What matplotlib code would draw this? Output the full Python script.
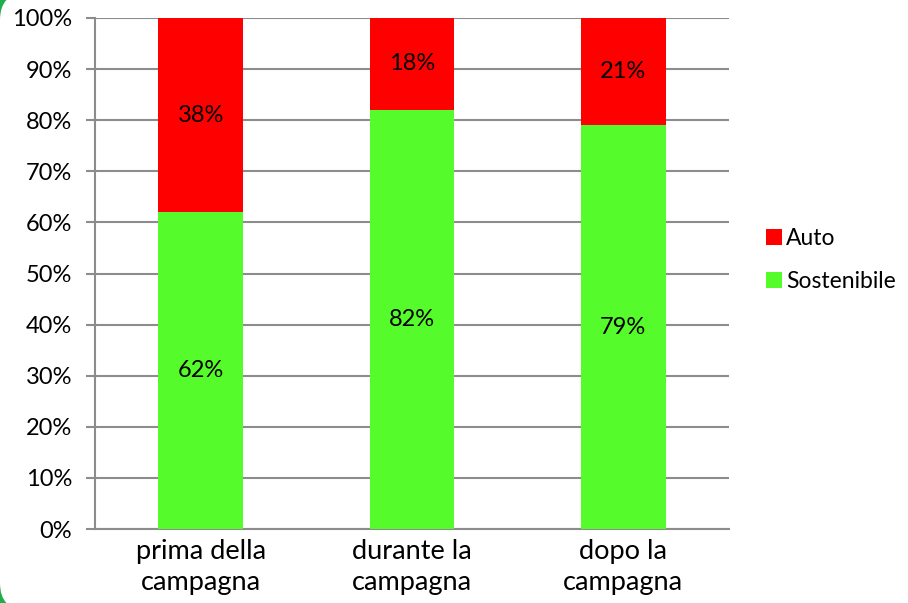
import matplotlib
matplotlib.use("Agg")
import matplotlib.pyplot as plt
from matplotlib.patches import FancyBboxPatch
import numpy as np

categories = ["prima della\ncampagna", "durante la\ncampagna", "dopo la\ncampagna"]
sostenibile = [62, 82, 79]
auto = [38, 18, 21]
yticks = [0, 10, 20, 30, 40, 50, 60, 70, 80, 90, 100]

RED = "#ff0000"
GREEN = "#55fb2a"
FRAME_GREEN = "#1fae4c"

plt.rcParams['font.family'] = ['Lato', 'DejaVu Sans']

fig = plt.figure(figsize=(9.08, 6.03), dpi=100)
fig.patch.set_facecolor(FRAME_GREEN)
# white rounded panel
panel = FancyBboxPatch((0.0, -0.012), 1.2, 1.024, boxstyle="round,pad=0,rounding_size=0.03",
                       transform=fig.transFigure, facecolor="white", edgecolor="none",
                       mutation_aspect=908/603, zorder=-10)
fig.patches.append(panel)

ax = fig.add_axes([95/908, 1 - 529/603, (729 - 95)/908, (529 - 18)/603])
ax.set_facecolor("none")
x = np.arange(len(categories))
w = 0.4
b1 = ax.bar(x, sostenibile, w, color=GREEN, label="Sostenibile", zorder=3)
b2 = ax.bar(x, auto, w, bottom=sostenibile, color=RED, label="Auto", zorder=3)

fs = 17
for xi, s, a in zip(x, sostenibile, auto):
    ax.text(xi, s / 2, f"{s}%", ha="center", va="center", fontsize=fs, zorder=4)
    ax.text(xi, s + a / 2, f"{a}%", ha="center", va="center", fontsize=fs, zorder=4)

ax.set_xlim(-0.5, 2.5)
ax.set_ylim(0, 100)
ax.set_yticks(yticks)
ax.set_yticklabels([f"{t}%" for t in yticks], fontsize=fs)
ax.set_xticks(x)
ax.set_xticklabels(categories, fontsize=19.5, linespacing=1.3)
ax.tick_params(axis="x", length=0, pad=7)
ax.tick_params(axis="y", length=6.5, width=1.5, color="#8c8c8c", pad=10)
ax.yaxis.grid(True, color="#8c8c8c", linewidth=1.5, zorder=1)
for s in ["top", "right"]:
    ax.spines[s].set_visible(False)
ax.spines["left"].set_color("#8c8c8c")
ax.spines["left"].set_linewidth(1.5)
ax.spines["bottom"].set_color("#8c8c8c")
ax.spines["bottom"].set_linewidth(1.5)

handles = [b2, b1]
fig.legend(handles, ["Auto", "Sostenibile"], loc="center left",
           bbox_to_anchor=(745/908, 1 - 260/603), frameon=False, fontsize=16.5,
           handlelength=0.7, handleheight=0.7, handletextpad=0.2, labelspacing=1.0)

fig.savefig("out.png", dpi=100, facecolor=fig.get_facecolor())
